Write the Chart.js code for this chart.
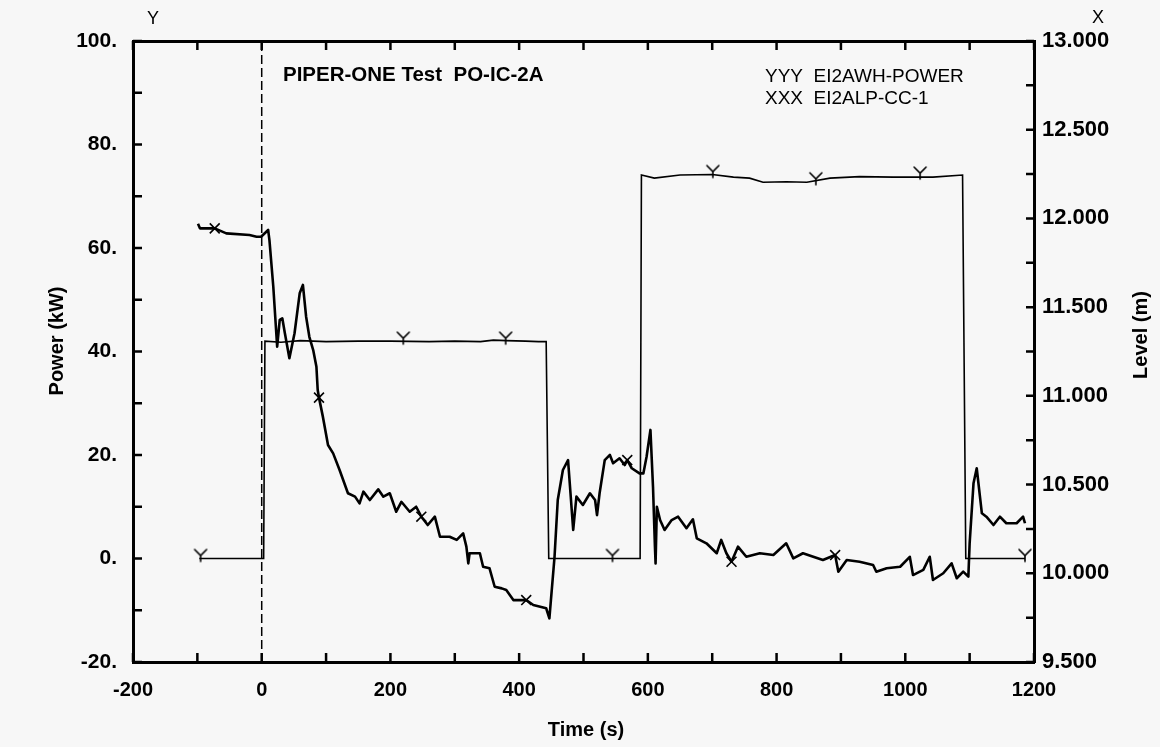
<!DOCTYPE html>
<html><head><meta charset="utf-8">
<script src="https://cdn.jsdelivr.net/npm/chart.js@4.4.1/dist/chart.umd.min.js"></script>
<style>html,body{margin:0;padding:0;background:#f7f7f7;} #wrap{width:1160px;height:747px;position:relative;}</style>
</head><body><div id="wrap"><canvas id="c"></canvas></div>
<script>
// ---- data ----
const timeMin = -200, timeMax = 1200, timeStep = 100, timeLabelStep = 200;
const powerMin = -20, powerMax = 100, powerStep = 10, powerLabelStep = 20;
const levelMin = 9.5, levelMax = 13, levelStep = 0.25, levelLabelStep = 0.5;

// YYY EI2AWH-POWER (left axis, kW)
const powerT = [-97, 3, 5, 30, 60, 100, 150, 200, 260, 300, 340, 360, 380, 410, 430, 442, 446, 588, 590, 610, 650, 700, 733, 758, 779, 815, 847, 883, 929, 981, 1043, 1089, 1094, 1186];
const powerV = [0, 0, 42, 41.8, 42.1, 41.9, 42, 42, 41.9, 42, 41.9, 42.2, 42.1, 42, 41.9, 41.9, 0, 0, 74.1, 73.5, 74.1, 74.2, 73.7, 73.5, 72.7, 72.8, 72.7, 73.5, 73.8, 73.7, 73.7, 74.1, 0, 0];

// XXX EI2ALP-CC-1 (right axis, m)
const levelT = [-99, -96, -73, -55, -19, -8, -1, 10, 12, 18, 24, 28, 32, 36, 43, 51, 59, 64, 69, 74, 80, 85, 87, 89, 95, 103, 111, 121, 134, 145, 152, 158, 168, 181, 189, 199, 209, 217, 230, 240, 248, 258, 269, 277, 292, 303, 313, 318, 321, 323, 339, 344, 354, 362, 373, 380, 391, 411, 422, 442, 447, 455, 460, 468, 476, 484, 489, 499, 510, 518, 521, 525, 533, 541, 546, 556, 564, 568, 575, 587, 593, 598, 604, 608, 611, 612, 614, 619, 626, 637, 647, 660, 670, 676, 691, 707, 714, 722, 730, 740, 753, 774, 795, 815, 826, 841, 857, 872, 891, 896, 909, 929, 950, 955, 971, 992, 1007, 1012, 1028, 1038, 1043, 1059, 1072, 1080, 1090, 1098, 1100, 1106, 1111, 1119, 1126, 1137, 1147, 1157, 1173, 1183, 1186];
const levelV = [11.97, 11.944, 11.944, 11.916, 11.907, 11.897, 11.897, 11.935, 11.878, 11.615, 11.277, 11.428, 11.437, 11.353, 11.212, 11.353, 11.578, 11.625, 11.446, 11.333, 11.258, 11.164, 11.033, 10.990, 10.883, 10.723, 10.676, 10.582, 10.451, 10.432, 10.394, 10.460, 10.413, 10.473, 10.432, 10.451, 10.347, 10.403, 10.347, 10.375, 10.319, 10.272, 10.319, 10.206, 10.206, 10.188, 10.225, 10.150, 10.056, 10.113, 10.113, 10.037, 10.028, 9.924, 9.915, 9.906, 9.849, 9.849, 9.821, 9.803, 9.746, 10.093, 10.413, 10.582, 10.638, 10.244, 10.432, 10.385, 10.451, 10.413, 10.328, 10.451, 10.638, 10.667, 10.620, 10.648, 10.610, 10.638, 10.592, 10.563, 10.563, 10.657, 10.808, 10.488, 10.150, 10.056, 10.375, 10.300, 10.244, 10.300, 10.319, 10.254, 10.304, 10.197, 10.169, 10.113, 10.188, 10.113, 10.065, 10.150, 10.093, 10.113, 10.103, 10.169, 10.084, 10.113, 10.093, 10.075, 10.103, 10.009, 10.075, 10.065, 10.047, 10.009, 10.028, 10.037, 10.093, 9.990, 10.019, 10.093, 9.962, 10.000, 10.056, 9.972, 10.009, 9.981, 10.169, 10.507, 10.592, 10.338, 10.319, 10.272, 10.319, 10.282, 10.282, 10.319, 10.282];

// symbol positions
const powerMarkT = [-95, 220, 379, 545, 701, 861, 1023, 1186];
const powerMarkV = [0, 42, 42, 0, 74.2, 72.8, 73.9, 0];
const levelMarkT = [-73, 89, 248, 411, 568, 730, 891];
const levelMarkV = [11.944, 10.990, 10.319, 9.849, 10.638, 10.065, 10.103];

// texts
const titleText = 'PIPER-ONE Test  PO-IC-2A';
const legendLines = ['YYY  EI2AWH-POWER', 'XXX  EI2ALP-CC-1'];
const xTitle = 'Time (s)';
const yTitle = 'Power (kW)';
const y2Title = 'Level (m)';
const yCorner = 'Y', y2Corner = 'X';

// ---- build ----
const zip = (a, b) => a.map((v, i) => ({x: v, y: b[i]}));
const FONT = '"Liberation Sans", Arial, Helvetica, sans-serif';

function yGlyph() {
  const c = document.createElement('canvas');
  c.width = 16; c.height = 24;
  const g = c.getContext('2d');
  g.strokeStyle = '#000'; g.lineWidth = 1.6; g.lineCap = 'round';
  g.beginPath();
  g.moveTo(2, 3); g.lineTo(8, 9); g.lineTo(14, 3);
  g.moveTo(8, 9); g.lineTo(8, 15);
  g.stroke();
  return c;
}

const inwardTicks = {
  id: 'inwardTicks',
  afterDraw(chart) {
    const ctx = chart.ctx, a = chart.chartArea;
    const sx = chart.scales.x, sy = chart.scales.y, sy2 = chart.scales.y2;
    ctx.save();
    ctx.strokeStyle = '#000'; ctx.lineWidth = 2.5;
    ctx.beginPath();
    for (let t = timeMin; t <= timeMax; t += timeStep) {
      const p = sx.getPixelForValue(t);
      ctx.moveTo(p, a.bottom); ctx.lineTo(p, a.bottom - 9);
      ctx.moveTo(p, a.top); ctx.lineTo(p, a.top + 9);
    }
    for (let v = powerMin; v <= powerMax; v += powerStep) {
      const p = sy.getPixelForValue(v);
      ctx.moveTo(a.left, p); ctx.lineTo(a.left + 9, p);
    }
    for (let v = levelMin; v <= levelMax + 1e-9; v += levelStep) {
      const p = sy2.getPixelForValue(v);
      ctx.moveTo(a.right, p); ctx.lineTo(a.right - 8, p);
    }
    ctx.stroke();

    ctx.fillStyle = '#000';
    ctx.textBaseline = 'middle';
    ctx.font = '18px ' + FONT;
    ctx.textAlign = 'center';
    ctx.fillText(yCorner, 153, 19);
    ctx.fillText(y2Corner, 1098, 18);

    ctx.textAlign = 'left';
    ctx.font = 'bold 20.5px ' + FONT;
    ctx.fillText(titleText, 283, 75);
    ctx.font = '19px ' + FONT;
    ctx.fillText(legendLines[0], 765, 77);
    ctx.fillText(legendLines[1], 765, 99);

    ctx.textAlign = 'center';
    ctx.font = 'bold 20px ' + FONT;
    ctx.fillText(xTitle, 586, 730);
    ctx.save(); ctx.translate(57, 341); ctx.rotate(-Math.PI / 2); ctx.fillText(yTitle, 0, 0); ctx.restore();
    ctx.save(); ctx.translate(1141, 335); ctx.rotate(-Math.PI / 2); ctx.fillText(y2Title, 0, 0); ctx.restore();
    ctx.restore();
  }
};

const noGrid = {display: false, drawTicks: false};
const border = {display: true, color: '#000', width: 3};

new Chart(document.getElementById('c'), {
  type: 'scatter',
  data: {
    datasets: [
      {label: 'zero', data: [{x: 0, y: powerMin}, {x: 0, y: powerMax}], showLine: true, borderColor: '#000', borderWidth: 1.5, borderDash: [9, 4], pointRadius: 0, yAxisID: 'y', xAxisID: 'x'},
      {label: 'EI2AWH-POWER', data: zip(powerT, powerV), showLine: true, borderColor: '#000', borderWidth: 1.6, pointRadius: 0, tension: 0, yAxisID: 'y', xAxisID: 'x'},
      {label: 'EI2ALP-CC-1', data: zip(levelT, levelV), showLine: true, borderColor: '#000', borderWidth: 2.6, pointRadius: 0, tension: 0, borderJoinStyle: 'round', yAxisID: 'y2', xAxisID: 'x'},
      {label: 'Ymarks', data: zip(powerMarkT, powerMarkV), showLine: false, pointStyle: yGlyph(), pointRadius: 8, yAxisID: 'y', xAxisID: 'x'},
      {label: 'Xmarks', data: zip(levelMarkT, levelMarkV), showLine: false, pointStyle: 'crossRot', pointRadius: 7, borderColor: '#000', borderWidth: 1.6, yAxisID: 'y2', xAxisID: 'x'}
    ]
  },
  options: {
    responsive: true, maintainAspectRatio: false, animation: false,
    layout: {padding: 0},
    plugins: {legend: {display: false}, tooltip: {enabled: false}},
    scales: {
      x: {type: 'linear', position: 'bottom', min: timeMin, max: timeMax,
          afterFit: s => { s.height = 85; },
          grid: noGrid, border,
          ticks: {stepSize: timeStep, font: {family: FONT, size: 20, weight: 'bold'}, color: '#000', padding: 16, maxRotation: 0, autoSkip: false,
                  callback: v => (v % timeLabelStep === 0 ? String(v) : '')}},
      x2: {type: 'linear', position: 'top', min: timeMin, max: timeMax,
           afterFit: s => { s.height = 41; },
           grid: noGrid, border, ticks: {display: false}},
      y: {type: 'linear', position: 'left', min: powerMin, max: powerMax,
          afterFit: s => { s.width = 133; },
          grid: noGrid, border,
          ticks: {stepSize: powerStep, font: {family: FONT, size: 21, weight: 'bold'}, color: '#000', padding: 16, autoSkip: false,
                  callback: v => (v % powerLabelStep === 0 ? v + '.' : '')}},
      y2: {type: 'linear', position: 'right', min: levelMin, max: levelMax,
           afterFit: s => { s.width = 126; },
           grid: noGrid, border,
           ticks: {stepSize: levelStep, font: {family: FONT, size: 22, weight: 'bold'}, color: '#000', padding: 8, autoSkip: false,
                   callback: v => (Math.abs(v / levelLabelStep - Math.round(v / levelLabelStep)) < 1e-6 ? v.toFixed(3) : '')}}
    }
  },
  plugins: [inwardTicks]
});
</script></body></html>
